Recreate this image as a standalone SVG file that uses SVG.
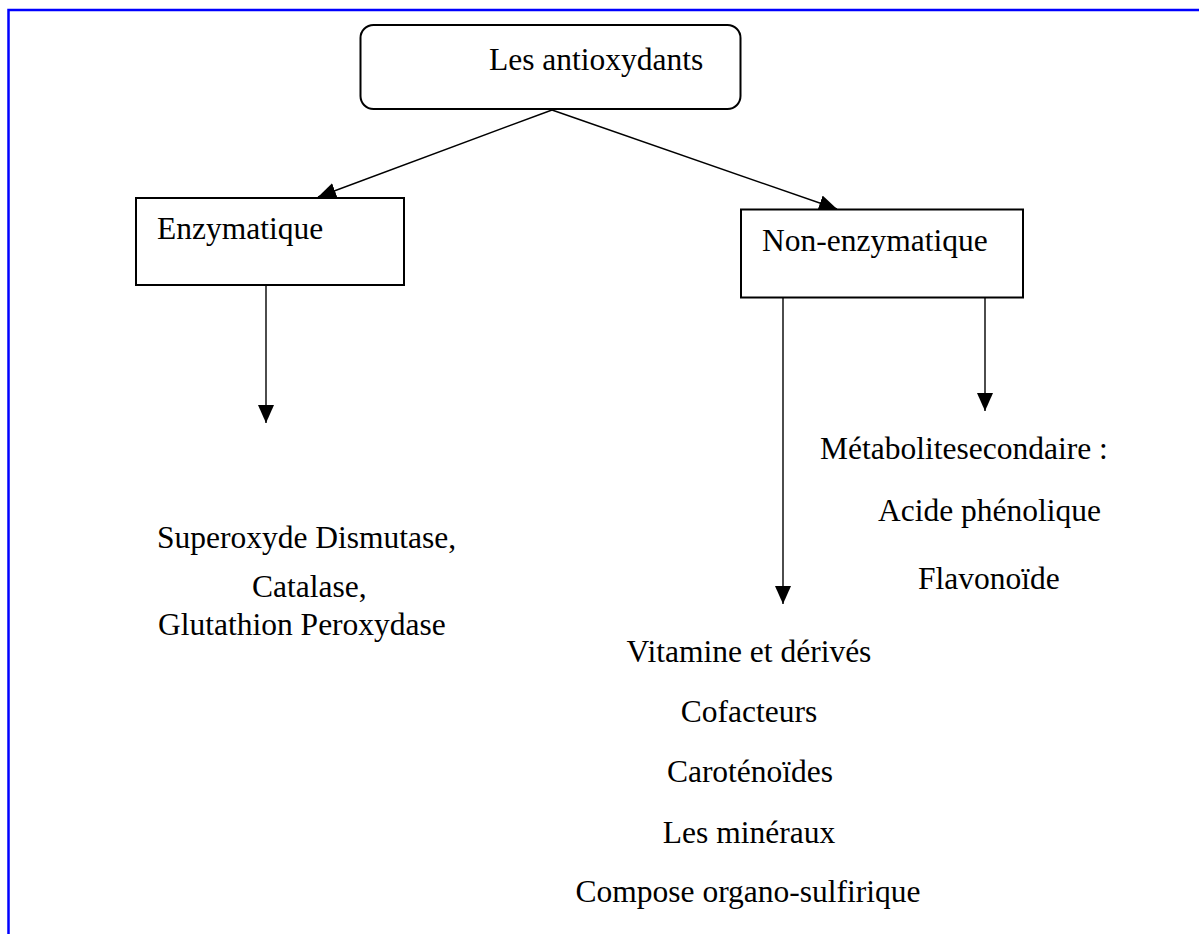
<svg xmlns="http://www.w3.org/2000/svg" width="1199" height="934" viewBox="0 0 1199 934">
<style>
text{font-family:"Liberation Serif","Times New Roman",serif;font-size:31.5px;fill:#000}
.box{fill:#fff;stroke:#000;stroke-width:2}
.c{stroke:#000;stroke-width:1.4;fill:none;marker-end:url(#ah)}
.frame{stroke:#0000ff;stroke-width:2.5;fill:none}
</style>
<defs>
<marker id="ah" markerUnits="userSpaceOnUse" markerWidth="18" markerHeight="18" viewBox="0 0 18 16" refX="18" refY="8" orient="auto">
<path d="M0,0 L18,8 L0,16 Z" fill="#000"/>
</marker>
</defs>
<rect width="1199" height="934" fill="#fff"/>
<path class="frame" d="M8.5,934 V10 H1199"/>
<g id="connectors">
<line class="c" x1="552" y1="110" x2="318" y2="197"/>
<line class="c" x1="552" y1="110" x2="837" y2="209"/>
<line class="c" x1="266" y1="286" x2="266" y2="423"/>
<line class="c" x1="783" y1="298" x2="783" y2="604"/>
<line class="c" x1="985" y1="298" x2="985" y2="411"/>
</g>
<g id="root">
<rect class="box" x="360.5" y="25" width="380" height="84" rx="13"/>
<text x="489" y="70">Les antioxydants</text>
</g>
<g id="enzymatique">
<rect class="box" x="136" y="198" width="268" height="87"/>
<text x="157" y="239">Enzymatique</text>
</g>
<g id="non-enzymatique">
<rect class="box" x="741" y="209.5" width="282" height="88"/>
<text x="762" y="251">Non-enzymatique</text>
</g>
<g id="enzymes">
<text x="157" y="548">Superoxyde Dismutase,</text>
<text x="252" y="597">Catalase,</text>
<text x="158" y="635">Glutathion Peroxydase</text>
</g>
<g id="metabolites">
<text x="820" y="459">Métabolitesecondaire :</text>
<text x="878" y="521">Acide phénolique</text>
<text x="918" y="589">Flavonoïde</text>
</g>
<g id="others" text-anchor="middle">
<text x="749" y="662">Vitamine et dérivés</text>
<text x="749" y="722">Cofacteurs</text>
<text x="750" y="782">Caroténoïdes</text>
<text x="749" y="843">Les minéraux</text>
<text x="748" y="902">Compose organo-sulfirique</text>
</g>
</svg>
